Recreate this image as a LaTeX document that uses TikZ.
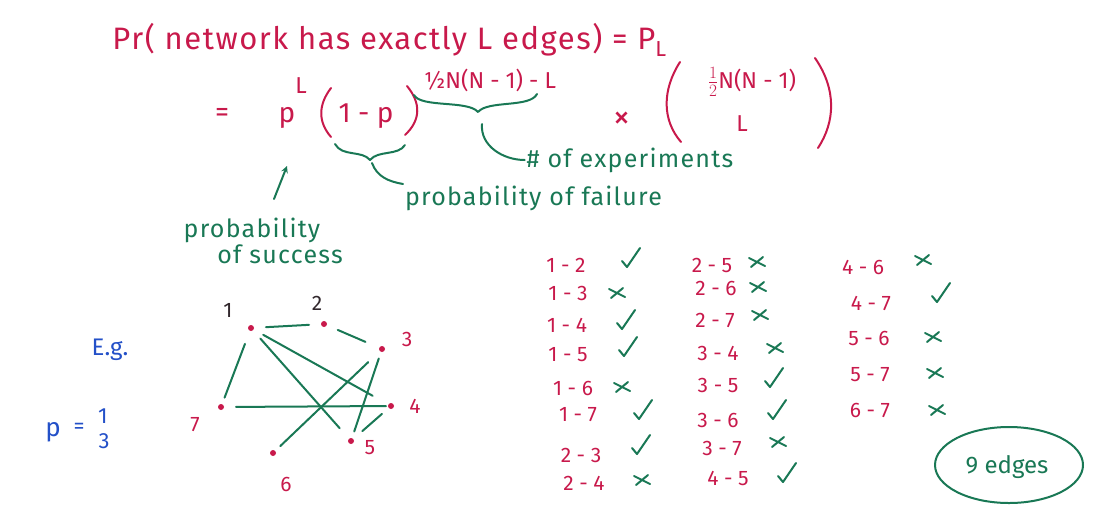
\documentclass[tikz,border=0pt]{standalone}
\usepackage{fontspec}
\setmainfont{Fira Sans}
\definecolor{ink}{RGB}{200,25,75}
\definecolor{pen}{RGB}{25,120,85}
\definecolor{biro}{RGB}{35,80,200}
\definecolor{lead}{RGB}{50,40,45}
\begin{document}
\begin{tikzpicture}[x=1pt,y=-1pt,line join=round,line cap=round,>=stealth,line width=2pt]
\tikzset{big/.style={font=\fontsize{28}{32}\selectfont},
mid/.style={font=\fontsize{23}{26}\selectfont},
small/.style={font=\fontsize{21}{24}\selectfont},
note/.style={text=pen,font=\fontsize{25}{28}\selectfont\addfontfeature{LetterSpace=5},inner sep=1pt},
vertex/.style={circle,fill=ink,inner sep=0pt,minimum size=6pt},
yes/.pic={\draw[pen] (-8,3)--(-3,9)--(10,-10);},
no/.pic={\draw[pen] (-8,-4)--(8,4) (-6,5)--(6,-5);}}
\useasboundingbox (0,0) rectangle (1115,517);
% first line
\node[text=ink,font=\fontsize{31}{34}\selectfont\addfontfeature{LetterSpace=5},anchor=west] (title) at (108,40) {Pr( network has exactly L edges) = P\textsubscript{L}};
% second line
\node[big,text=ink] (eq) at (222,115) {=};
\node[big,text=ink,anchor=base] (succ) at (287,122) {p};
\node[mid,text=ink] (succexp) at (301,86) {L};
\node[big,text=ink,anchor=base] (fail) at (366,122) {1 - p};
\draw[ink] (331,88) .. controls (318,105) and (318,122) .. (331,137);
\draw[ink] (407,86) .. controls (421,103) and (421,120) .. (405,135);
\node[mid,text=ink] (expo) at (490,80) {½N(N - 1) - L};
\node[text=ink,font=\fontsize{34}{36}\selectfont] (times) at (622,120) {×};
\node[mid,text=ink] (btop) at (752,82) {$\frac{1}{2}$N(N - 1)};
\node[mid,text=ink] (bbot) at (742,124) {L};
\draw[ink] (680,62) .. controls (662,90) and (662,120) .. (681,142);
\draw[ink] (815,58) .. controls (837,90) and (835,122) .. (818,148);
% braces and notes
\node[note,anchor=north west] (failnote) at (403,184) {probability of failure};
\node[note] (expnote) at (630,160) {\# of experiments};
\node[note] (succnote1) at (252,230) {probability};
\node[note] (succnote2) at (280,254) {of success};
\draw[pen] (414,95) .. controls (421,108) and (468,100) .. (478,112) .. controls (488,100) and (530,108) .. (537,94);
\draw[pen] (335,144) .. controls (342,157) and (362,150) .. (370,160) .. controls (378,150) and (398,156) .. (405,145);
\coordinate (tip1) at (482,124);
\coordinate (tip2) at (372,163);
\coordinate (a0) at (274,199);
\coordinate (a1) at (287,166);
\draw[pen] (tip1) to[out=-95,in=180] (expnote.west);
\draw[pen] (tip2) to[out=-70,in=170] (failnote.north west);
\draw[pen,->] (a0) -- (a1);
% example
\node[text=biro,font=\fontsize{24}{28}\selectfont] (eg) at (110,350) {E.g.};
\node[text=biro,font=\fontsize{26}{28}\selectfont] (pp) at (53,432) {p};
\node[text=biro,font=\fontsize{22}{24}\selectfont] (peq) at (79,428) {=};
\node[text=biro,font=\fontsize{22}{24}\selectfont] (pone) at (103,416) {1};
\node[text=biro,font=\fontsize{22}{24}\selectfont] (pthree) at (104,441) {3};
% network
\node[vertex] (v1) at (251,328) {};
\node[vertex] (v2) at (324,324) {};
\node[vertex] (v3) at (382,349) {};
\node[vertex] (v4) at (391,406) {};
\node[vertex] (v5) at (351,441) {};
\node[vertex] (v6) at (273,453) {};
\node[vertex] (v7) at (221,407) {};
\draw[small] (228,310) node[text=lead] (l1) {1} (317,303) node[text=lead] (l2) {2}
(407,339) node[text=ink] (l3) {3} (415,406) node[text=ink] (l4) {4}
(370,448) node[text=ink] (l5) {5} (286,484) node[text=ink] (l6) {6}
(195,425) node[text=ink] (l7) {7};
\draw[pen,shorten <=11pt,shorten >=11pt] (v1)--(v2);
\draw[pen,shorten <=13pt,shorten >=6pt] (v1)--(v7);
\draw[pen,shorten <=10pt,shorten >=17pt] (v1)--(v4);
\draw[pen,shorten <=10pt,shorten >=13pt] (v1)--(v5);
\draw[pen,shorten <=11pt,shorten >=14pt] (v2)--(v3);
\draw[pen,shorten <=6pt,shorten >=6pt] (v3)--(v5);
\draw[pen,shorten <=15pt,shorten >=6pt] (v3)--(v6);
\draw[pen,shorten <=8pt,shorten >=11pt] (v4)--(v5);
\draw[pen,shorten <=1pt,shorten >=11pt] (v4)--(v7);
% list of pairs
\draw[small,text=ink] (566,265) node (p12) {1 - 2} (568,293) node (p13) {1 - 3}
(567,325) node (p14) {1 - 4} (568,355) node (p15) {1 - 5}
(573,388) node (p16) {1 - 6} (578,415) node (p17) {1 - 7}
(581,455) node (p23) {2 - 3} (584,483) node (p24) {2 - 4};
\draw[small,text=ink] (712,265) node (p25) {2 - 5} (716,288) node (p26) {2 - 6}
(715,320) node (p27) {2 - 7} (718,353) node (p34) {3 - 4}
(718,385) node (p35) {3 - 5} (718,420) node (p36) {3 - 6}
(722,448) node (p37) {3 - 7} (728,478) node (p45) {4 - 5};
\draw[small,text=ink] (863,267) node (p46) {4 - 6} (871,303) node (p47) {4 - 7}
(869,338) node (p56) {5 - 6} (870,375) node (p57) {5 - 7}
(870,410) node (p67) {6 - 7};
\pic at (630,258) {yes}; \pic at (617,293) {no}; \pic at (625,320) {yes};
\pic at (627,347) {yes}; \pic at (622,387) {no}; \pic at (642,410) {yes};
\pic at (640,445) {yes}; \pic at (642,480) {no};
\pic at (757,262) {no}; \pic at (758,287) {no}; \pic at (760,315) {no};
\pic at (775,348) {no}; \pic at (773,378) {yes}; \pic at (776,410) {yes};
\pic at (778,442) {no}; \pic at (786,473) {yes};
\pic at (923,260) {no}; \pic at (940,293) {yes}; \pic at (933,337) {no};
\pic at (935,373) {no}; \pic at (937,410) {no};
% total
\node[note,font=\fontsize{24}{28}\selectfont] (total) at (1007,467) {9 edges};
\draw[pen] (1009,465) ellipse (74 and 38);
\end{tikzpicture}
\end{document}
